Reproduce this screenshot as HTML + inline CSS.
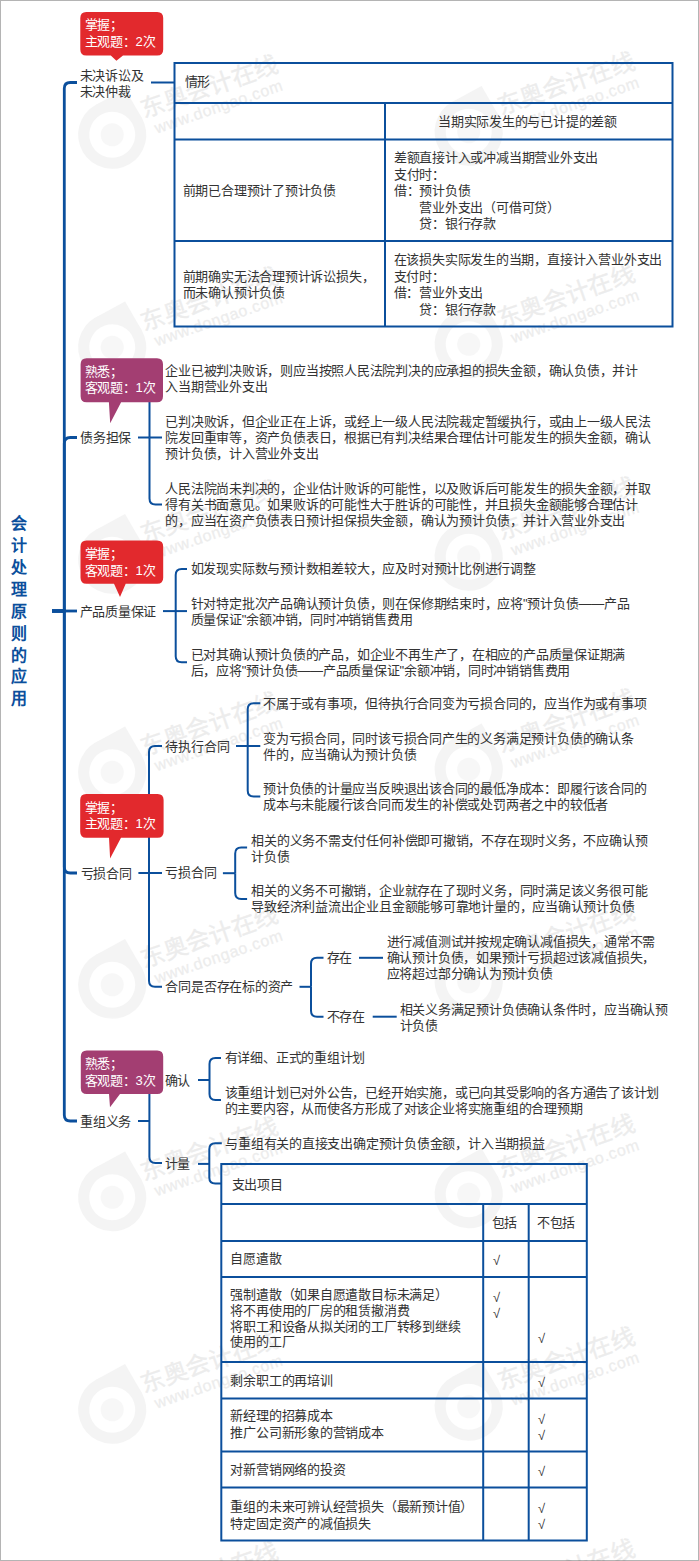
<!DOCTYPE html>
<html lang="zh-CN"><head><meta charset="utf-8"><title>会计处理原则的应用</title>
<style>
html,body{margin:0;padding:0;background:#fff;}
body{width:699px;height:1561px;position:relative;overflow:hidden;font-family:"Liberation Sans",sans-serif;}
.frame{position:absolute;left:0;top:0;width:697px;height:1559px;border:1px solid #b4b4b4;}
svg{position:absolute;left:0;top:0;}
.t{position:absolute;white-space:nowrap;font-size:13px;letter-spacing:-0.22px;color:#333333;}
.root{position:absolute;left:11.4px;top:512.8px;width:16px;font-size:16px;line-height:21.95px;font-weight:900;color:#0b4f9c;}
</style></head><body>
<div class="frame"></div>
<svg width="699" height="1561" viewBox="0 0 699 1561">
<g fill="#000" style="font-family:'Liberation Sans',sans-serif"><g transform="translate(144,-94.5) rotate(-19)"><g opacity="0.07" stroke="#000"><text x="0" y="0" font-size="24" stroke-width="0.5">东奥会计在线</text><text x="7" y="19" font-size="16" letter-spacing="0.6" stroke-width="0.4">www.dongao.com</text></g><g opacity="0.038" transform="translate(-35.5,5.5)"><path d="M-5.9 -33.5 L27 -39 L33.5 -5.9 Z"/><circle r="28.5" stroke="#000" stroke-width="11" fill="none"/><circle r="11.5" fill-opacity="0.7"/></g></g><g transform="translate(144,118.0) rotate(-19)"><g opacity="0.07" stroke="#000"><text x="0" y="0" font-size="24" stroke-width="0.5">东奥会计在线</text><text x="7" y="19" font-size="16" letter-spacing="0.6" stroke-width="0.4">www.dongao.com</text></g><g opacity="0.038" transform="translate(-35.5,5.5)"><path d="M-5.9 -33.5 L27 -39 L33.5 -5.9 Z"/><circle r="28.5" stroke="#000" stroke-width="11" fill="none"/><circle r="11.5" fill-opacity="0.7"/></g></g><g transform="translate(144,330.5) rotate(-19)"><g opacity="0.07" stroke="#000"><text x="0" y="0" font-size="24" stroke-width="0.5">东奥会计在线</text><text x="7" y="19" font-size="16" letter-spacing="0.6" stroke-width="0.4">www.dongao.com</text></g><g opacity="0.038" transform="translate(-35.5,5.5)"><path d="M-5.9 -33.5 L27 -39 L33.5 -5.9 Z"/><circle r="28.5" stroke="#000" stroke-width="11" fill="none"/><circle r="11.5" fill-opacity="0.7"/></g></g><g transform="translate(144,543.0) rotate(-19)"><g opacity="0.07" stroke="#000"><text x="0" y="0" font-size="24" stroke-width="0.5">东奥会计在线</text><text x="7" y="19" font-size="16" letter-spacing="0.6" stroke-width="0.4">www.dongao.com</text></g><g opacity="0.038" transform="translate(-35.5,5.5)"><path d="M-5.9 -33.5 L27 -39 L33.5 -5.9 Z"/><circle r="28.5" stroke="#000" stroke-width="11" fill="none"/><circle r="11.5" fill-opacity="0.7"/></g></g><g transform="translate(144,755.5) rotate(-19)"><g opacity="0.07" stroke="#000"><text x="0" y="0" font-size="24" stroke-width="0.5">东奥会计在线</text><text x="7" y="19" font-size="16" letter-spacing="0.6" stroke-width="0.4">www.dongao.com</text></g><g opacity="0.038" transform="translate(-35.5,5.5)"><path d="M-5.9 -33.5 L27 -39 L33.5 -5.9 Z"/><circle r="28.5" stroke="#000" stroke-width="11" fill="none"/><circle r="11.5" fill-opacity="0.7"/></g></g><g transform="translate(144,968.0) rotate(-19)"><g opacity="0.07" stroke="#000"><text x="0" y="0" font-size="24" stroke-width="0.5">东奥会计在线</text><text x="7" y="19" font-size="16" letter-spacing="0.6" stroke-width="0.4">www.dongao.com</text></g><g opacity="0.038" transform="translate(-35.5,5.5)"><path d="M-5.9 -33.5 L27 -39 L33.5 -5.9 Z"/><circle r="28.5" stroke="#000" stroke-width="11" fill="none"/><circle r="11.5" fill-opacity="0.7"/></g></g><g transform="translate(144,1180.5) rotate(-19)"><g opacity="0.07" stroke="#000"><text x="0" y="0" font-size="24" stroke-width="0.5">东奥会计在线</text><text x="7" y="19" font-size="16" letter-spacing="0.6" stroke-width="0.4">www.dongao.com</text></g><g opacity="0.038" transform="translate(-35.5,5.5)"><path d="M-5.9 -33.5 L27 -39 L33.5 -5.9 Z"/><circle r="28.5" stroke="#000" stroke-width="11" fill="none"/><circle r="11.5" fill-opacity="0.7"/></g></g><g transform="translate(144,1393.0) rotate(-19)"><g opacity="0.07" stroke="#000"><text x="0" y="0" font-size="24" stroke-width="0.5">东奥会计在线</text><text x="7" y="19" font-size="16" letter-spacing="0.6" stroke-width="0.4">www.dongao.com</text></g><g opacity="0.038" transform="translate(-35.5,5.5)"><path d="M-5.9 -33.5 L27 -39 L33.5 -5.9 Z"/><circle r="28.5" stroke="#000" stroke-width="11" fill="none"/><circle r="11.5" fill-opacity="0.7"/></g></g><g transform="translate(144,1605.5) rotate(-19)"><g opacity="0.07" stroke="#000"><text x="0" y="0" font-size="24" stroke-width="0.5">东奥会计在线</text><text x="7" y="19" font-size="16" letter-spacing="0.6" stroke-width="0.4">www.dongao.com</text></g><g opacity="0.038" transform="translate(-35.5,5.5)"><path d="M-5.9 -33.5 L27 -39 L33.5 -5.9 Z"/><circle r="28.5" stroke="#000" stroke-width="11" fill="none"/><circle r="11.5" fill-opacity="0.7"/></g></g><g transform="translate(500.5,-97.5) rotate(-19)"><g opacity="0.07" stroke="#000"><text x="0" y="0" font-size="24" stroke-width="0.5">东奥会计在线</text><text x="7" y="19" font-size="16" letter-spacing="0.6" stroke-width="0.4">www.dongao.com</text></g><g opacity="0.038" transform="translate(-35.5,5.5)"><path d="M-5.9 -33.5 L27 -39 L33.5 -5.9 Z"/><circle r="28.5" stroke="#000" stroke-width="11" fill="none"/><circle r="11.5" fill-opacity="0.7"/></g></g><g transform="translate(500.5,115.0) rotate(-19)"><g opacity="0.07" stroke="#000"><text x="0" y="0" font-size="24" stroke-width="0.5">东奥会计在线</text><text x="7" y="19" font-size="16" letter-spacing="0.6" stroke-width="0.4">www.dongao.com</text></g><g opacity="0.038" transform="translate(-35.5,5.5)"><path d="M-5.9 -33.5 L27 -39 L33.5 -5.9 Z"/><circle r="28.5" stroke="#000" stroke-width="11" fill="none"/><circle r="11.5" fill-opacity="0.7"/></g></g><g transform="translate(500.5,327.5) rotate(-19)"><g opacity="0.07" stroke="#000"><text x="0" y="0" font-size="24" stroke-width="0.5">东奥会计在线</text><text x="7" y="19" font-size="16" letter-spacing="0.6" stroke-width="0.4">www.dongao.com</text></g><g opacity="0.038" transform="translate(-35.5,5.5)"><path d="M-5.9 -33.5 L27 -39 L33.5 -5.9 Z"/><circle r="28.5" stroke="#000" stroke-width="11" fill="none"/><circle r="11.5" fill-opacity="0.7"/></g></g><g transform="translate(500.5,540.0) rotate(-19)"><g opacity="0.07" stroke="#000"><text x="0" y="0" font-size="24" stroke-width="0.5">东奥会计在线</text><text x="7" y="19" font-size="16" letter-spacing="0.6" stroke-width="0.4">www.dongao.com</text></g><g opacity="0.038" transform="translate(-35.5,5.5)"><path d="M-5.9 -33.5 L27 -39 L33.5 -5.9 Z"/><circle r="28.5" stroke="#000" stroke-width="11" fill="none"/><circle r="11.5" fill-opacity="0.7"/></g></g><g transform="translate(500.5,752.5) rotate(-19)"><g opacity="0.07" stroke="#000"><text x="0" y="0" font-size="24" stroke-width="0.5">东奥会计在线</text><text x="7" y="19" font-size="16" letter-spacing="0.6" stroke-width="0.4">www.dongao.com</text></g><g opacity="0.038" transform="translate(-35.5,5.5)"><path d="M-5.9 -33.5 L27 -39 L33.5 -5.9 Z"/><circle r="28.5" stroke="#000" stroke-width="11" fill="none"/><circle r="11.5" fill-opacity="0.7"/></g></g><g transform="translate(500.5,965.0) rotate(-19)"><g opacity="0.07" stroke="#000"><text x="0" y="0" font-size="24" stroke-width="0.5">东奥会计在线</text><text x="7" y="19" font-size="16" letter-spacing="0.6" stroke-width="0.4">www.dongao.com</text></g><g opacity="0.038" transform="translate(-35.5,5.5)"><path d="M-5.9 -33.5 L27 -39 L33.5 -5.9 Z"/><circle r="28.5" stroke="#000" stroke-width="11" fill="none"/><circle r="11.5" fill-opacity="0.7"/></g></g><g transform="translate(500.5,1177.5) rotate(-19)"><g opacity="0.07" stroke="#000"><text x="0" y="0" font-size="24" stroke-width="0.5">东奥会计在线</text><text x="7" y="19" font-size="16" letter-spacing="0.6" stroke-width="0.4">www.dongao.com</text></g><g opacity="0.038" transform="translate(-35.5,5.5)"><path d="M-5.9 -33.5 L27 -39 L33.5 -5.9 Z"/><circle r="28.5" stroke="#000" stroke-width="11" fill="none"/><circle r="11.5" fill-opacity="0.7"/></g></g><g transform="translate(500.5,1390.0) rotate(-19)"><g opacity="0.07" stroke="#000"><text x="0" y="0" font-size="24" stroke-width="0.5">东奥会计在线</text><text x="7" y="19" font-size="16" letter-spacing="0.6" stroke-width="0.4">www.dongao.com</text></g><g opacity="0.038" transform="translate(-35.5,5.5)"><path d="M-5.9 -33.5 L27 -39 L33.5 -5.9 Z"/><circle r="28.5" stroke="#000" stroke-width="11" fill="none"/><circle r="11.5" fill-opacity="0.7"/></g></g><g transform="translate(500.5,1602.5) rotate(-19)"><g opacity="0.07" stroke="#000"><text x="0" y="0" font-size="24" stroke-width="0.5">东奥会计在线</text><text x="7" y="19" font-size="16" letter-spacing="0.6" stroke-width="0.4">www.dongao.com</text></g><g opacity="0.038" transform="translate(-35.5,5.5)"><path d="M-5.9 -33.5 L27 -39 L33.5 -5.9 Z"/><circle r="28.5" stroke="#000" stroke-width="11" fill="none"/><circle r="11.5" fill-opacity="0.7"/></g></g></g>
<path d="M52 611 H64.3 V88.5 Q64.3 82.5 70.3 82.5 H77" stroke="#0b4f9c" stroke-width="2.8" fill="none" /><path d="M52 611 H64.3 V443.5 Q64.3 437.5 70.3 437.5 H77" stroke="#0b4f9c" stroke-width="2.8" fill="none" /><path d="M52 611 H77" stroke="#0b4f9c" stroke-width="2.8" fill="none" /><path d="M52 611 H64.3 V867 Q64.3 873 70.3 873 H77" stroke="#0b4f9c" stroke-width="2.8" fill="none" /><path d="M52 611 H64.3 V1115 Q64.3 1121 70.3 1121 H77" stroke="#0b4f9c" stroke-width="2.8" fill="none" /><path d="M151 82.5 H174" stroke="#0b4f9c" stroke-width="2" fill="none" /><path d="M138 437.5 H149.5" stroke="#0b4f9c" stroke-width="2" fill="none" /><path d="M149.5 437.5 H149.5 V384.8 Q149.5 378.8 155.5 378.8 H162" stroke="#0b4f9c" stroke-width="2" fill="none" /><path d="M149.5 437.5 H162" stroke="#0b4f9c" stroke-width="2" fill="none" /><path d="M149.5 437.5 H149.5 V498.5 Q149.5 504.5 155.5 504.5 H162" stroke="#0b4f9c" stroke-width="2" fill="none" /><path d="M163 611.1 H175.7" stroke="#0b4f9c" stroke-width="2" fill="none" /><path d="M175.7 611.1 H175.7 V575 Q175.7 569 181.7 569 H187" stroke="#0b4f9c" stroke-width="2" fill="none" /><path d="M175.7 611.1 H187" stroke="#0b4f9c" stroke-width="2" fill="none" /><path d="M175.7 611.1 H175.7 V656.2 Q175.7 662.2 181.7 662.2 H187" stroke="#0b4f9c" stroke-width="2" fill="none" /><path d="M138.4 873 H149" stroke="#0b4f9c" stroke-width="2" fill="none" /><path d="M149 873 H149 V752 Q149 746 155 746 H162" stroke="#0b4f9c" stroke-width="2" fill="none" /><path d="M149 873 H162" stroke="#0b4f9c" stroke-width="2" fill="none" /><path d="M149 873 H149 V980.8 Q149 986.8 155 986.8 H162" stroke="#0b4f9c" stroke-width="2" fill="none" /><path d="M236 746 H247.7" stroke="#0b4f9c" stroke-width="2" fill="none" /><path d="M247.7 746 H247.7 V709.2 Q247.7 703.2 253.7 703.2 H260.3" stroke="#0b4f9c" stroke-width="2" fill="none" /><path d="M247.7 746 H260.3" stroke="#0b4f9c" stroke-width="2" fill="none" /><path d="M247.7 746 H247.7 V790.5 Q247.7 796.5 253.7 796.5 H260.3" stroke="#0b4f9c" stroke-width="2" fill="none" /><path d="M222.9 873.2 H235.2" stroke="#0b4f9c" stroke-width="2" fill="none" /><path d="M235.2 873.2 H235.2 V853.6 Q235.2 847.6 241.2 847.6 H247.1" stroke="#0b4f9c" stroke-width="2" fill="none" /><path d="M235.2 873.2 H235.2 V892.9 Q235.2 898.9 241.2 898.9 H247.1" stroke="#0b4f9c" stroke-width="2" fill="none" /><path d="M299.5 986.8 H311" stroke="#0b4f9c" stroke-width="2" fill="none" /><path d="M311 986.8 H311 V963.8 Q311 957.8 317 957.8 H323.5" stroke="#0b4f9c" stroke-width="2" fill="none" /><path d="M311 986.8 H311 V1010.7 Q311 1016.7 317 1016.7 H323.5" stroke="#0b4f9c" stroke-width="2" fill="none" /><path d="M359 957.8 H383" stroke="#0b4f9c" stroke-width="2" fill="none" /><path d="M372.7 1016.7 H396.7" stroke="#0b4f9c" stroke-width="2" fill="none" /><path d="M138 1121 H149.4" stroke="#0b4f9c" stroke-width="2" fill="none" /><path d="M149.4 1121 H149.4 V1086 Q149.4 1080 155.4 1080 H162" stroke="#0b4f9c" stroke-width="2" fill="none" /><path d="M149.4 1121 H149.4 V1157 Q149.4 1163 155.4 1163 H162" stroke="#0b4f9c" stroke-width="2" fill="none" /><path d="M198 1080 H209.5" stroke="#0b4f9c" stroke-width="2" fill="none" /><path d="M209.5 1080 H209.5 V1064 Q209.5 1058 215.5 1058 H221" stroke="#0b4f9c" stroke-width="2" fill="none" /><path d="M209.5 1080 H209.5 V1094 Q209.5 1100 215.5 1100 H221" stroke="#0b4f9c" stroke-width="2" fill="none" /><path d="M198 1163.9 H209.3" stroke="#0b4f9c" stroke-width="2" fill="none" /><path d="M209.3 1163.9 H209.3 V1149.2 Q209.3 1143.2 215.3 1143.2 H221.8" stroke="#0b4f9c" stroke-width="2" fill="none" /><path d="M209.3 1163.9 H209.3 V1177.6 Q209.3 1183.6 215.3 1183.6 H221.3" stroke="#0b4f9c" stroke-width="2" fill="none" />
<rect x="174.5" y="63" width="498" height="263.5" stroke="#0b4f9c" stroke-width="2" fill="none"/><path d="M174.5 103 H672.5" stroke="#0b4f9c" stroke-width="2" fill="none"/><path d="M174.5 139.5 H672.5" stroke="#0b4f9c" stroke-width="2" fill="none"/><path d="M174.5 241 H672.5" stroke="#0b4f9c" stroke-width="2" fill="none"/><path d="M385 103 V326.5" stroke="#0b4f9c" stroke-width="2" fill="none"/><rect x="221.3" y="1164" width="365.5" height="376.5" stroke="#0b4f9c" stroke-width="2" fill="none"/><path d="M221.3 1204 H586.8" stroke="#0b4f9c" stroke-width="2" fill="none"/><path d="M221.3 1241 H586.8" stroke="#0b4f9c" stroke-width="2" fill="none"/><path d="M221.3 1277 H586.8" stroke="#0b4f9c" stroke-width="2" fill="none"/><path d="M221.3 1362 H586.8" stroke="#0b4f9c" stroke-width="2" fill="none"/><path d="M221.3 1398.5 H586.8" stroke="#0b4f9c" stroke-width="2" fill="none"/><path d="M221.3 1451.5 H586.8" stroke="#0b4f9c" stroke-width="2" fill="none"/><path d="M221.3 1487.5 H586.8" stroke="#0b4f9c" stroke-width="2" fill="none"/><path d="M483.2 1204 V1540.5" stroke="#0b4f9c" stroke-width="2" fill="none"/><path d="M528.7 1204 V1540.5" stroke="#0b4f9c" stroke-width="2" fill="none"/>
<path d="M86.3 11.9 H157.2 Q163.2 11.9 163.2 17.9 V49.4 Q163.2 55.4 157.2 55.4 H123 L116.4 60.8 L110.8 55.4 H86.3 Q80.3 55.4 80.3 49.4 V17.9 Q80.3 11.9 86.3 11.9 Z" fill="#e2292d"/><path d="M86.6 358.2 H157 Q163 358.2 163 364.2 V396.2 Q163 402.2 157 402.2 H121.1 L110.2 423.3 L108.9 402.2 H86.6 Q80.6 402.2 80.6 396.2 V364.2 Q80.6 358.2 86.6 358.2 Z" fill="#a33e72"/><path d="M86.5 540.5 H157.2 Q163.2 540.5 163.2 546.5 V577.8 Q163.2 583.8 157.2 583.8 H125.7 L120 597 L114 583.8 H86.5 Q80.5 583.8 80.5 577.8 V546.5 Q80.5 540.5 86.5 540.5 Z" fill="#e2292d"/><path d="M86.2 794 H157.6 Q163.6 794 163.6 800 V831.8 Q163.6 837.8 157.6 837.8 H121 L110.1 858.6 L109 837.8 H86.2 Q80.2 837.8 80.2 831.8 V800 Q80.2 794 86.2 794 Z" fill="#e2292d"/><path d="M86.8 1050.6 H157.2 Q163.2 1050.6 163.2 1056.6 V1088 Q163.2 1094 157.2 1094 H120 L110 1107.2 L109 1094 H86.8 Q80.8 1094 80.8 1088 V1056.6 Q80.8 1050.6 86.8 1050.6 Z" fill="#a33e72"/>
</svg>
<div class="root">会<br>计<br>处<br>理<br>原<br>则<br>的<br>应<br>用</div>
<div class="t" style="left:79.7px;top:68.0px;line-height:16px;">未决诉讼及<br>未决仲裁</div><div class="t" style="left:80.0px;top:430.4px;line-height:16px;">债务担保</div><div class="t" style="left:79.5px;top:604.0px;line-height:16px;">产品质量保证</div><div class="t" style="left:80.5px;top:865.5px;line-height:16px;">亏损合同</div><div class="t" style="left:80.0px;top:1114.3px;line-height:16px;">重组义务</div><div class="t" style="left:184.7px;top:74.2px;line-height:16px;">情形</div><div class="t" style="left:438.0px;top:114.2px;line-height:16px;">当期实际发生的与已计提的差额</div><div class="t" style="left:182.7px;top:182.5px;line-height:16px;">前期已合理预计了预计负债</div><div class="t" style="left:393.8px;top:150.2px;line-height:16.5px;">差额直接计入或冲减当期营业外支出<br>支付时：<br>借：预计负债<br>　　营业外支出（可借可贷）<br>　　贷：银行存款</div><div class="t" style="left:182.7px;top:268.8px;line-height:16.5px;">前期确实无法合理预计诉讼损失，<br>而未确认预计负债</div><div class="t" style="left:393.7px;top:252.2px;line-height:16.5px;">在该损失实际发生的当期，直接计入营业外支出<br>支付时：<br>借：营业外支出<br>　　贷：银行存款</div><div class="t" style="left:165.2px;top:363.4px;line-height:16px;">企业已被判决败诉，则应当按照人民法院判决的应承担的损失金额，确认负债，并计<br>入当期营业外支出</div><div class="t" style="left:165.2px;top:414.4px;line-height:16px;">已判决败诉，但企业正在上诉，或经上一级人民法院裁定暂缓执行，或由上一级人民法<br>院发回重审等，资产负债表日，根据已有判决结果合理估计可能发生的损失金额，确认<br>预计负债，计入营业外支出</div><div class="t" style="left:165.2px;top:480.9px;line-height:16px;">人民法院尚未判决的，企业估计败诉的可能性，以及败诉后可能发生的损失金额，并取<br>得有关书面意见。如果败诉的可能性大于胜诉的可能性，并且损失金额能够合理估计<br>的，应当在资产负债表日预计担保损失金额，确认为预计负债，并计入营业外支出</div><div class="t" style="left:190.7px;top:561.0px;line-height:16px;">如发现实际数与预计数相差较大，应及时对预计比例进行调整</div><div class="t" style="left:190.7px;top:595.6px;line-height:16px;">针对特定批次产品确认预计负债，则在保修期结束时，应将"预计负债——产品<br>质量保证"余额冲销，同时冲销销售费用</div><div class="t" style="left:190.7px;top:646.9px;line-height:16px;">已对其确认预计负债的产品，如企业不再生产了，在相应的产品质量保证期满<br>后，应将"预计负债——产品质量保证"余额冲销，同时冲销销售费用</div><div class="t" style="left:165.4px;top:738.7px;line-height:16px;">待执行合同</div><div class="t" style="left:165.4px;top:865.4px;line-height:16px;">亏损合同</div><div class="t" style="left:165.4px;top:979.2px;line-height:16px;">合同是否存在标的资产</div><div class="t" style="left:263.0px;top:696.4px;line-height:16px;">不属于或有事项，但待执行合同变为亏损合同的，应当作为或有事项</div><div class="t" style="left:263.0px;top:730.9px;line-height:16px;">变为亏损合同，同时该亏损合同产生的义务满足预计负债的确认条<br>件的，应当确认为预计负债</div><div class="t" style="left:263.0px;top:781.2px;line-height:16px;">预计负债的计量应当反映退出该合同的最低净成本：即履行该合同的<br>成本与未能履行该合同而发生的补偿或处罚两者之中的较低者</div><div class="t" style="left:251.2px;top:832.5px;line-height:16px;">相关的义务不需支付任何补偿即可撤销，不存在现时义务，不应确认预<br>计负债</div><div class="t" style="left:251.2px;top:882.7px;line-height:16px;">相关的义务不可撤销，企业就存在了现时义务，同时满足该义务很可能<br>导致经济利益流出企业且金额能够可靠地计量的，应当确认预计负债</div><div class="t" style="left:326.7px;top:949.6px;line-height:16px;">存在</div><div class="t" style="left:326.7px;top:1009.4px;line-height:16px;">不存在</div><div class="t" style="left:386.7px;top:934.3px;line-height:16px;">进行减值测试并按规定确认减值损失，通常不需<br>确认预计负债，如果预计亏损超过该减值损失，<br>应将超过部分确认为预计负债</div><div class="t" style="left:399.5px;top:1001.5px;line-height:16px;">相关义务满足预计负债确认条件时，应当确认预<br>计负债</div><div class="t" style="left:164.7px;top:1072.6px;line-height:16px;">确认</div><div class="t" style="left:164.7px;top:1156.3px;line-height:16px;">计量</div><div class="t" style="left:224.7px;top:1049.9px;line-height:16px;">有详细、正式的重组计划</div><div class="t" style="left:224.7px;top:1084.9px;line-height:16px;">该重组计划已对外公告，已经开始实施，或已向其受影响的各方通告了该计划<br>的主要内容，从而使各方形成了对该企业将实施重组的合理预期</div><div class="t" style="left:225.2px;top:1135.6px;line-height:16px;">与重组有关的直接支出确定预计负债金额，计入当期损益</div><div class="t" style="left:231.6px;top:1177.3px;line-height:16px;">支出项目</div><div class="t" style="left:491.7px;top:1215.4px;line-height:16px;">包括</div><div class="t" style="left:536.8px;top:1215.3px;line-height:16px;">不包括</div><div class="t" style="left:230.4px;top:1251.0px;line-height:16px;">自愿遣散</div><div class="t" style="left:230.4px;top:1287.0px;line-height:15.8px;">强制遣散（如果自愿遣散目标未满足）<br>将不再使用的厂房的租赁撤消费<br>将职工和设备从拟关闭的工厂转移到继续<br>使用的工厂</div><div class="t" style="left:230.4px;top:1373.2px;line-height:16px;">剩余职工的再培训</div><div class="t" style="left:230.4px;top:1408.2px;line-height:16.5px;">新经理的招募成本<br>推广公司新形象的营销成本</div><div class="t" style="left:230.4px;top:1461.8px;line-height:16px;">对新营销网络的投资</div><div class="t" style="left:230.4px;top:1499.3px;line-height:16.5px;">重组的未来可辨认经营损失（最新预计值）<br>特定固定资产的减值损失</div><div class="t" style="left:493.0px;top:1253.1px;line-height:16px;">√</div><div class="t" style="left:493.0px;top:1290.4px;line-height:16px;">√</div><div class="t" style="left:493.0px;top:1306.2px;line-height:16px;">√</div><div class="t" style="left:537.9px;top:1331.3px;line-height:16px;">√</div><div class="t" style="left:538.0px;top:1375.0px;line-height:16px;">√</div><div class="t" style="left:538.0px;top:1411.5px;line-height:16px;">√</div><div class="t" style="left:538.0px;top:1427.7px;line-height:16px;">√</div><div class="t" style="left:538.0px;top:1464.2px;line-height:16px;">√</div><div class="t" style="left:538.0px;top:1500.8px;line-height:16px;">√</div><div class="t" style="left:538.0px;top:1517.0px;line-height:16px;">√</div><div class="t" style="left:84.5px;top:17.4px;line-height:16.5px;color:#fff;">掌握；<br>主观题：2次</div><div class="t" style="left:84.5px;top:363.6px;line-height:16.5px;color:#fff;">熟悉；<br>客观题：1次</div><div class="t" style="left:84.5px;top:546.0px;line-height:16.5px;color:#fff;">掌握；<br>客观题：1次</div><div class="t" style="left:84.5px;top:799.5px;line-height:16.5px;color:#fff;">掌握；<br>主观题：1次</div><div class="t" style="left:84.5px;top:1056.0px;line-height:16.5px;color:#fff;">熟悉；<br>客观题：3次</div>
</body></html>
